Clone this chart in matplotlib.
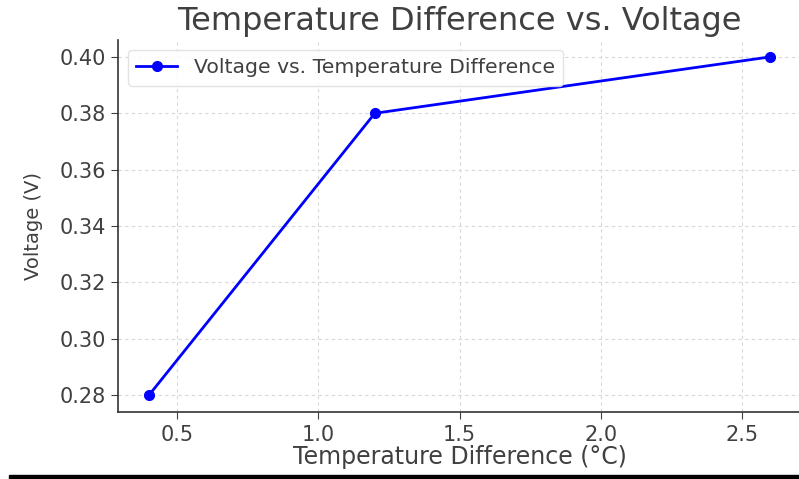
import matplotlib
matplotlib.use("Agg")
import matplotlib.pyplot as plt
from matplotlib.patches import Rectangle

temp_diff = [0.4, 1.2, 2.6]
voltage = [0.28, 0.38, 0.40]
series_label = "Voltage vs. Temperature Difference"
title = "Temperature Difference vs. Voltage"
xlabel = "Temperature Difference (°C)"
ylabel = "Voltage (V)"

text_color = "#404040"
plt.rcParams['font.family'] = ['DejaVu Sans']

fig = plt.figure(figsize=(7.99, 4.79), dpi=100)
ax = fig.add_axes([118/799, 67/479, (801-118)/799, (412-40)/479])

ax.plot(temp_diff, voltage, color="#0000ff", marker="o", markersize=7,
        linewidth=2.0, label=series_label)

ax.set_title(title, fontsize=23, color=text_color, pad=7)
ax.set_xlabel(xlabel, fontsize=17, color=text_color, labelpad=0)
ax.set_ylabel(ylabel, fontsize=14, color=text_color, labelpad=12)
ax.set_xticks([0.5, 1.0, 1.5, 2.0, 2.5])
ax.set_yticks([0.28, 0.30, 0.32, 0.34, 0.36, 0.38, 0.40])
ax.yaxis.set_major_formatter(matplotlib.ticker.FormatStrFormatter('%.2f'))
ax.xaxis.set_major_formatter(matplotlib.ticker.FormatStrFormatter('%.1f'))
ax.tick_params(labelsize=15, colors=text_color, length=5)
ax.tick_params(axis="x", pad=4.5)
ax.grid(True, linestyle=(0, (3, 3)), color="#d8d8d8", linewidth=0.8)
for side in ["top", "right"]:
    ax.spines[side].set_visible(False)
for side in ["left", "bottom"]:
    ax.spines[side].set_color("#333333")
    ax.spines[side].set_linewidth(1.2)

leg = ax.legend(loc="upper left", fontsize=14.7, handlelength=2.0,
                borderaxespad=0.5, frameon=True)
for t in leg.get_texts():
    t.set_color(text_color)
leg.get_frame().set_edgecolor("#dddddd")

fig.patches.append(Rectangle((9/799, 0), 1, 4/479, transform=fig.transFigure,
                             color="black", zorder=10))

fig.savefig("out.png", dpi=100)
